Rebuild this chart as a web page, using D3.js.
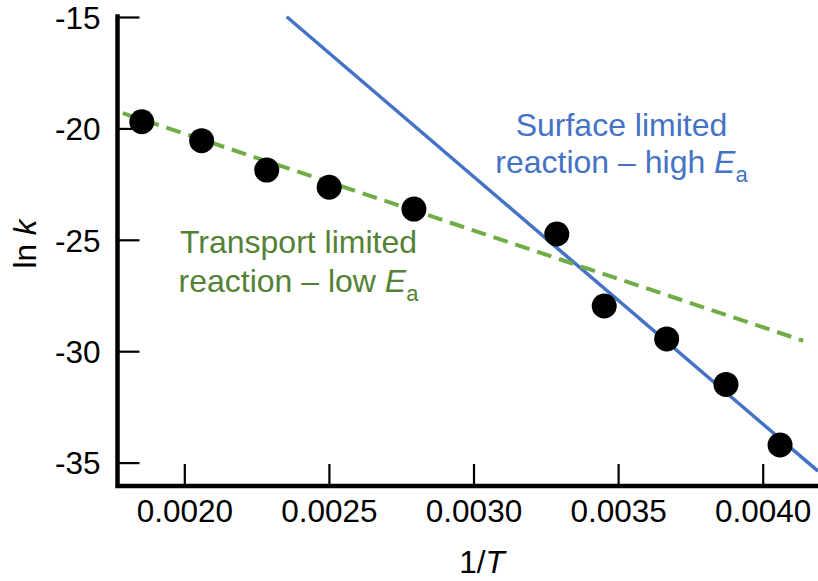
<!DOCTYPE html>
<html>
<head>
<meta charset="utf-8">
<script src="https://cdn.jsdelivr.net/npm/d3@7"></script>
<style>
  html, body { margin: 0; padding: 0; background: #ffffff; }
  svg { display: block; font-family: "Liberation Sans", Arial, sans-serif; }
</style>
</head>
<body>
<svg id="chart" width="818" height="581"></svg>
<script>
// Arrhenius plot: ln k versus 1/T
const invT = [0.001853, 0.002060, 0.002285, 0.002501, 0.002794,
              0.003288, 0.003452, 0.003668, 0.003873, 0.004060];
const lnK  = [-19.70, -20.55, -21.87, -22.64, -23.62,
              -24.74, -27.97, -29.45, -31.49, -34.21];

// Fitted lines (end points in data units)
const surfaceFitX = [0.002354, 0.004191];
const surfaceFitY = [-14.99, -35.38];
const transportFitX = [0.001787, 0.004140];
const transportFitY = [-19.31, -29.53];

// Axis ticks and labels
const xTicks = [0.0020, 0.0025, 0.0030, 0.0035, 0.0040];
const xTickLabels = ["0.0020", "0.0025", "0.0030", "0.0035", "0.0040"];
const yTicks = [-15, -20, -25, -30, -35];
const yTickLabels = ["-15", "-20", "-25", "-30", "-35"];

const xDomain = [0.001769, 0.0041912];
const yDomain = [-36.05, -15];

const svg = d3.select("#chart");
const plotLeft = 117.5, plotRight = 818, plotTop = 17, plotBottom = 486;

const x = d3.scaleLinear().domain(xDomain).range([plotLeft, plotRight]);
const y = d3.scaleLinear().domain(yDomain).range([plotBottom, plotTop]);

const blue = "#4472C4";
const greenLine = "#70AD47";
const greenText = "#548235";

// Fit lines
const line = d3.line().x(d => x(d[0])).y(d => y(d[1]));
svg.append("path")
  .datum(d3.zip(surfaceFitX, surfaceFitY))
  .attr("d", line)
  .attr("fill", "none")
  .attr("stroke", blue)
  .attr("stroke-width", 3.5);

svg.append("path")
  .datum(d3.zip(transportFitX, transportFitY))
  .attr("d", line)
  .attr("fill", "none")
  .attr("stroke", greenLine)
  .attr("stroke-width", 4)
  .attr("stroke-dasharray", "15,8");

// Data points
svg.append("g").selectAll("circle")
  .data(d3.zip(invT, lnK))
  .join("circle")
  .attr("cx", d => x(d[0]))
  .attr("cy", d => y(d[1]))
  .attr("r", 12.5)
  .attr("fill", "#000");

// Axes: ticks point inward
const xAxis = d3.axisBottom(x)
  .tickValues(xTicks)
  .tickFormat((d, i) => xTickLabels[i])
  .tickSizeInner(-22)
  .tickSizeOuter(0)
  .tickPadding(14);
const gx = svg.append("g").attr("transform", `translate(0,${plotBottom})`).call(xAxis);
gx.select(".domain").remove();
gx.selectAll(".tick line").attr("stroke", "#000").attr("stroke-width", 2.2);
gx.selectAll(".tick text")
  .attr("font-size", 31.5)
  .attr("fill", "#000")
  .attr("font-family", "'Liberation Sans', Arial, sans-serif")
  .attr("dy", "0.71em")
  .attr("y", 14);

const yAxis = d3.axisLeft(y)
  .tickValues(yTicks)
  .tickFormat((d, i) => yTickLabels[i])
  .tickSizeInner(-22)
  .tickSizeOuter(0)
  .tickPadding(17);
const gy = svg.append("g").attr("transform", `translate(${plotLeft},0)`).call(yAxis);
gy.select(".domain").remove();
gy.selectAll(".tick line").attr("stroke", "#000").attr("stroke-width", 2.2);
gy.selectAll(".tick text")
  .attr("font-size", 31.5)
  .attr("fill", "#000")
  .attr("font-family", "'Liberation Sans', Arial, sans-serif")
  .attr("x", -17)
  .attr("dy", "0.36em");

// Spines
svg.append("path")
  .attr("d", `M${plotLeft},${y(yDomain[1]) - 0.5} V${plotBottom} H${plotRight}`)
  .attr("fill", "none")
  .attr("stroke", "#000")
  .attr("stroke-width", 4.5)
  .attr("stroke-linejoin", "miter")
  .attr("stroke-linecap", "square");

// Axis titles
const xt = svg.append("text")
  .attr("x", 482)
  .attr("y", 573)
  .attr("text-anchor", "middle")
  .attr("font-size", 31.5)
  .attr("fill", "#000");
xt.append("tspan").text("1/");
xt.append("tspan").attr("font-style", "italic").text("T");

const yt = svg.append("text")
  .attr("transform", "translate(36,244) rotate(-90)")
  .attr("text-anchor", "middle")
  .attr("font-size", 31.5)
  .attr("fill", "#000");
yt.append("tspan").text("ln ");
yt.append("tspan").attr("font-style", "italic").text("k");

// Annotations
function annotate(cx, y1, y2, line1, line2, color) {
  const g = svg.append("g").attr("fill", color).attr("font-size", 32);
  g.append("text").attr("x", cx).attr("y", y1).attr("text-anchor", "middle").text(line1);
  const t = g.append("text").attr("x", cx).attr("y", y2).attr("text-anchor", "middle");
  t.append("tspan").text(line2);
  t.append("tspan").attr("font-style", "italic").text("E");
  t.append("tspan").attr("font-size", 22).attr("dy", 9).text("a");
}
annotate(621.5, 135.7, 173.3, "Surface limited", "reaction \u2013 high ", blue);
annotate(298.5, 252.7, 291.7, "Transport limited", "reaction \u2013 low ", greenText);
</script>
</body>
</html>
